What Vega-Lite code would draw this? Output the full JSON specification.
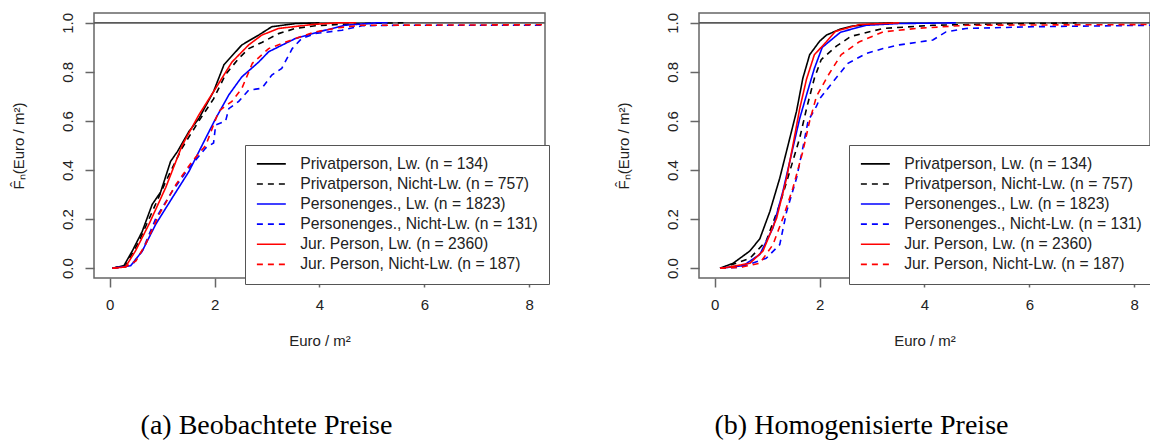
{
  "$schema": "https://vega.github.io/schema/vega-lite/v6.json",
  "background": "white",
  "padding": {"left": 10, "top": 11, "right": 0, "bottom": 0},
  "config": {
    "font": "Liberation Sans",
    "view": {"stroke": "#666666", "strokeWidth": 1.5},
    "axis": {"domain": false, "grid": false, "tickColor": "#666666", "tickWidth": 1.5, "tickSize": 9, "labelFont": "Liberation Sans", "labelFontSize": 15, "labelColor": "#222222", "titleFont": "Liberation Sans", "titleFontSize": 15, "titleFontWeight": "normal", "titleColor": "#222222"},
    "legend": {"fillColor": "white", "strokeColor": "#555555", "padding": 11, "labelFont": "Liberation Sans", "labelFontSize": 15.7, "labelColor": "#222222", "labelLimit": 0, "rowPadding": 3.1},
    "concat": {"spacing": 64}
  },
  "datasets": {
    "a": [
      {"s": "Privatperson, Lw. (n = 134)", "x": 0.05, "y": 0}, {"s": "Privatperson, Lw. (n = 134)", "x": 0.27, "y": 0.01}, {"s": "Privatperson, Lw. (n = 134)", "x": 0.43, "y": 0.07}, {"s": "Privatperson, Lw. (n = 134)", "x": 0.62, "y": 0.15}, {"s": "Privatperson, Lw. (n = 134)", "x": 0.81, "y": 0.26}, {"s": "Privatperson, Lw. (n = 134)", "x": 0.97, "y": 0.31}, {"s": "Privatperson, Lw. (n = 134)", "x": 1.16, "y": 0.435}, {"s": "Privatperson, Lw. (n = 134)", "x": 1.29, "y": 0.475}, {"s": "Privatperson, Lw. (n = 134)", "x": 1.51, "y": 0.557}, {"s": "Privatperson, Lw. (n = 134)", "x": 1.7, "y": 0.61}, {"s": "Privatperson, Lw. (n = 134)", "x": 1.98, "y": 0.72}, {"s": "Privatperson, Lw. (n = 134)", "x": 2.18, "y": 0.83}, {"s": "Privatperson, Lw. (n = 134)", "x": 2.52, "y": 0.91}, {"s": "Privatperson, Lw. (n = 134)", "x": 2.84, "y": 0.95}, {"s": "Privatperson, Lw. (n = 134)", "x": 3.09, "y": 0.984}, {"s": "Privatperson, Lw. (n = 134)", "x": 3.54, "y": 0.997}, {"s": "Privatperson, Lw. (n = 134)", "x": 4.0, "y": 1.0},
      {"s": "Privatperson, Nicht-Lw. (n = 757)", "x": 0.05, "y": 0}, {"s": "Privatperson, Nicht-Lw. (n = 757)", "x": 0.3, "y": 0.01}, {"s": "Privatperson, Nicht-Lw. (n = 757)", "x": 0.56, "y": 0.11}, {"s": "Privatperson, Nicht-Lw. (n = 757)", "x": 0.81, "y": 0.23}, {"s": "Privatperson, Nicht-Lw. (n = 757)", "x": 1.07, "y": 0.354}, {"s": "Privatperson, Nicht-Lw. (n = 757)", "x": 1.38, "y": 0.49}, {"s": "Privatperson, Nicht-Lw. (n = 757)", "x": 1.7, "y": 0.6}, {"s": "Privatperson, Nicht-Lw. (n = 757)", "x": 1.98, "y": 0.69}, {"s": "Privatperson, Nicht-Lw. (n = 757)", "x": 2.21, "y": 0.79}, {"s": "Privatperson, Nicht-Lw. (n = 757)", "x": 2.46, "y": 0.855}, {"s": "Privatperson, Nicht-Lw. (n = 757)", "x": 2.65, "y": 0.895}, {"s": "Privatperson, Nicht-Lw. (n = 757)", "x": 2.9, "y": 0.92}, {"s": "Privatperson, Nicht-Lw. (n = 757)", "x": 3.22, "y": 0.956}, {"s": "Privatperson, Nicht-Lw. (n = 757)", "x": 3.54, "y": 0.977}, {"s": "Privatperson, Nicht-Lw. (n = 757)", "x": 3.92, "y": 0.988}, {"s": "Privatperson, Nicht-Lw. (n = 757)", "x": 4.35, "y": 0.993}, {"s": "Privatperson, Nicht-Lw. (n = 757)", "x": 5.0, "y": 0.998}, {"s": "Privatperson, Nicht-Lw. (n = 757)", "x": 5.6, "y": 1.0},
      {"s": "Personenges., Lw. (n = 1823)", "x": 0.05, "y": 0}, {"s": "Personenges., Lw. (n = 1823)", "x": 0.4, "y": 0.01}, {"s": "Personenges., Lw. (n = 1823)", "x": 0.62, "y": 0.07}, {"s": "Personenges., Lw. (n = 1823)", "x": 0.88, "y": 0.18}, {"s": "Personenges., Lw. (n = 1823)", "x": 1.19, "y": 0.286}, {"s": "Personenges., Lw. (n = 1823)", "x": 1.51, "y": 0.394}, {"s": "Personenges., Lw. (n = 1823)", "x": 1.83, "y": 0.53}, {"s": "Personenges., Lw. (n = 1823)", "x": 2.02, "y": 0.61}, {"s": "Personenges., Lw. (n = 1823)", "x": 2.27, "y": 0.706}, {"s": "Personenges., Lw. (n = 1823)", "x": 2.52, "y": 0.78}, {"s": "Personenges., Lw. (n = 1823)", "x": 2.84, "y": 0.84}, {"s": "Personenges., Lw. (n = 1823)", "x": 3.03, "y": 0.882}, {"s": "Personenges., Lw. (n = 1823)", "x": 3.54, "y": 0.936}, {"s": "Personenges., Lw. (n = 1823)", "x": 3.98, "y": 0.963}, {"s": "Personenges., Lw. (n = 1823)", "x": 4.49, "y": 0.99}, {"s": "Personenges., Lw. (n = 1823)", "x": 5.1, "y": 1.0}, {"s": "Personenges., Lw. (n = 1823)", "x": 5.3, "y": 1.0},
      {"s": "Personenges., Nicht-Lw. (n = 131)", "x": 0.05, "y": 0}, {"s": "Personenges., Nicht-Lw. (n = 131)", "x": 0.3, "y": 0.005}, {"s": "Personenges., Nicht-Lw. (n = 131)", "x": 0.45, "y": 0.02}, {"s": "Personenges., Nicht-Lw. (n = 131)", "x": 0.62, "y": 0.07}, {"s": "Personenges., Nicht-Lw. (n = 131)", "x": 0.88, "y": 0.204}, {"s": "Personenges., Nicht-Lw. (n = 131)", "x": 1.19, "y": 0.313}, {"s": "Personenges., Nicht-Lw. (n = 131)", "x": 1.51, "y": 0.408}, {"s": "Personenges., Nicht-Lw. (n = 131)", "x": 1.83, "y": 0.49}, {"s": "Personenges., Nicht-Lw. (n = 131)", "x": 1.98, "y": 0.51}, {"s": "Personenges., Nicht-Lw. (n = 131)", "x": 2.02, "y": 0.584}, {"s": "Personenges., Nicht-Lw. (n = 131)", "x": 2.21, "y": 0.6}, {"s": "Personenges., Nicht-Lw. (n = 131)", "x": 2.27, "y": 0.65}, {"s": "Personenges., Nicht-Lw. (n = 131)", "x": 2.46, "y": 0.68}, {"s": "Personenges., Nicht-Lw. (n = 131)", "x": 2.65, "y": 0.726}, {"s": "Personenges., Nicht-Lw. (n = 131)", "x": 2.9, "y": 0.733}, {"s": "Personenges., Nicht-Lw. (n = 131)", "x": 3.09, "y": 0.787}, {"s": "Personenges., Nicht-Lw. (n = 131)", "x": 3.28, "y": 0.814}, {"s": "Personenges., Nicht-Lw. (n = 131)", "x": 3.48, "y": 0.895}, {"s": "Personenges., Nicht-Lw. (n = 131)", "x": 3.66, "y": 0.936}, {"s": "Personenges., Nicht-Lw. (n = 131)", "x": 3.92, "y": 0.956}, {"s": "Personenges., Nicht-Lw. (n = 131)", "x": 4.43, "y": 0.97}, {"s": "Personenges., Nicht-Lw. (n = 131)", "x": 4.81, "y": 0.988}, {"s": "Personenges., Nicht-Lw. (n = 131)", "x": 5.5, "y": 0.99}, {"s": "Personenges., Nicht-Lw. (n = 131)", "x": 8.3, "y": 0.99},
      {"s": "Jur. Person, Lw. (n = 2360)", "x": 0.05, "y": 0}, {"s": "Jur. Person, Lw. (n = 2360)", "x": 0.3, "y": 0.005}, {"s": "Jur. Person, Lw. (n = 2360)", "x": 0.49, "y": 0.07}, {"s": "Jur. Person, Lw. (n = 2360)", "x": 0.75, "y": 0.18}, {"s": "Jur. Person, Lw. (n = 2360)", "x": 1.07, "y": 0.33}, {"s": "Jur. Person, Lw. (n = 2360)", "x": 1.38, "y": 0.5}, {"s": "Jur. Person, Lw. (n = 2360)", "x": 1.7, "y": 0.625}, {"s": "Jur. Person, Lw. (n = 2360)", "x": 2.02, "y": 0.733}, {"s": "Jur. Person, Lw. (n = 2360)", "x": 2.33, "y": 0.84}, {"s": "Jur. Person, Lw. (n = 2360)", "x": 2.65, "y": 0.91}, {"s": "Jur. Person, Lw. (n = 2360)", "x": 2.9, "y": 0.95}, {"s": "Jur. Person, Lw. (n = 2360)", "x": 3.22, "y": 0.977}, {"s": "Jur. Person, Lw. (n = 2360)", "x": 3.86, "y": 0.993}, {"s": "Jur. Person, Lw. (n = 2360)", "x": 4.35, "y": 1.0}, {"s": "Jur. Person, Lw. (n = 2360)", "x": 4.7, "y": 1.0},
      {"s": "Jur. Person, Nicht-Lw. (n = 187)", "x": 0.05, "y": 0}, {"s": "Jur. Person, Nicht-Lw. (n = 187)", "x": 0.3, "y": 0.005}, {"s": "Jur. Person, Nicht-Lw. (n = 187)", "x": 0.5, "y": 0.03}, {"s": "Jur. Person, Nicht-Lw. (n = 187)", "x": 0.68, "y": 0.096}, {"s": "Jur. Person, Nicht-Lw. (n = 187)", "x": 0.94, "y": 0.218}, {"s": "Jur. Person, Nicht-Lw. (n = 187)", "x": 1.26, "y": 0.34}, {"s": "Jur. Person, Nicht-Lw. (n = 187)", "x": 1.57, "y": 0.435}, {"s": "Jur. Person, Nicht-Lw. (n = 187)", "x": 1.83, "y": 0.5}, {"s": "Jur. Person, Nicht-Lw. (n = 187)", "x": 2.08, "y": 0.64}, {"s": "Jur. Person, Nicht-Lw. (n = 187)", "x": 2.33, "y": 0.68}, {"s": "Jur. Person, Nicht-Lw. (n = 187)", "x": 2.52, "y": 0.733}, {"s": "Jur. Person, Nicht-Lw. (n = 187)", "x": 2.72, "y": 0.835}, {"s": "Jur. Person, Nicht-Lw. (n = 187)", "x": 3.03, "y": 0.895}, {"s": "Jur. Person, Nicht-Lw. (n = 187)", "x": 3.54, "y": 0.936}, {"s": "Jur. Person, Nicht-Lw. (n = 187)", "x": 3.92, "y": 0.963}, {"s": "Jur. Person, Nicht-Lw. (n = 187)", "x": 4.36, "y": 0.98}, {"s": "Jur. Person, Nicht-Lw. (n = 187)", "x": 4.8, "y": 0.99}, {"s": "Jur. Person, Nicht-Lw. (n = 187)", "x": 8.3, "y": 0.992}
    ],
    "b": [
      {"s": "Privatperson, Lw. (n = 134)", "x": 0.1, "y": 0}, {"s": "Privatperson, Lw. (n = 134)", "x": 0.35, "y": 0.02}, {"s": "Privatperson, Lw. (n = 134)", "x": 0.67, "y": 0.07}, {"s": "Privatperson, Lw. (n = 134)", "x": 0.86, "y": 0.12}, {"s": "Privatperson, Lw. (n = 134)", "x": 1.05, "y": 0.23}, {"s": "Privatperson, Lw. (n = 134)", "x": 1.24, "y": 0.367}, {"s": "Privatperson, Lw. (n = 134)", "x": 1.4, "y": 0.503}, {"s": "Privatperson, Lw. (n = 134)", "x": 1.56, "y": 0.64}, {"s": "Privatperson, Lw. (n = 134)", "x": 1.68, "y": 0.774}, {"s": "Privatperson, Lw. (n = 134)", "x": 1.81, "y": 0.87}, {"s": "Privatperson, Lw. (n = 134)", "x": 2.0, "y": 0.925}, {"s": "Privatperson, Lw. (n = 134)", "x": 2.13, "y": 0.95}, {"s": "Privatperson, Lw. (n = 134)", "x": 2.4, "y": 0.975}, {"s": "Privatperson, Lw. (n = 134)", "x": 2.6, "y": 0.986}, {"s": "Privatperson, Lw. (n = 134)", "x": 3.0, "y": 0.995}, {"s": "Privatperson, Lw. (n = 134)", "x": 3.4, "y": 1.0},
      {"s": "Privatperson, Nicht-Lw. (n = 757)", "x": 0.1, "y": 0}, {"s": "Privatperson, Nicht-Lw. (n = 757)", "x": 0.2, "y": 0.005}, {"s": "Privatperson, Nicht-Lw. (n = 757)", "x": 0.67, "y": 0.04}, {"s": "Privatperson, Nicht-Lw. (n = 757)", "x": 0.98, "y": 0.11}, {"s": "Privatperson, Nicht-Lw. (n = 757)", "x": 1.24, "y": 0.26}, {"s": "Privatperson, Nicht-Lw. (n = 757)", "x": 1.43, "y": 0.394}, {"s": "Privatperson, Nicht-Lw. (n = 757)", "x": 1.62, "y": 0.53}, {"s": "Privatperson, Nicht-Lw. (n = 757)", "x": 1.75, "y": 0.65}, {"s": "Privatperson, Nicht-Lw. (n = 757)", "x": 1.9, "y": 0.774}, {"s": "Privatperson, Nicht-Lw. (n = 757)", "x": 2.03, "y": 0.85}, {"s": "Privatperson, Nicht-Lw. (n = 757)", "x": 2.32, "y": 0.905}, {"s": "Privatperson, Nicht-Lw. (n = 757)", "x": 2.6, "y": 0.945}, {"s": "Privatperson, Nicht-Lw. (n = 757)", "x": 3.21, "y": 0.977}, {"s": "Privatperson, Nicht-Lw. (n = 757)", "x": 4.16, "y": 0.99}, {"s": "Privatperson, Nicht-Lw. (n = 757)", "x": 5.43, "y": 0.995}, {"s": "Privatperson, Nicht-Lw. (n = 757)", "x": 6.9, "y": 1.0},
      {"s": "Personenges., Lw. (n = 1823)", "x": 0.1, "y": 0}, {"s": "Personenges., Lw. (n = 1823)", "x": 0.54, "y": 0.01}, {"s": "Personenges., Lw. (n = 1823)", "x": 0.86, "y": 0.056}, {"s": "Personenges., Lw. (n = 1823)", "x": 1.11, "y": 0.164}, {"s": "Personenges., Lw. (n = 1823)", "x": 1.3, "y": 0.313}, {"s": "Personenges., Lw. (n = 1823)", "x": 1.46, "y": 0.462}, {"s": "Personenges., Lw. (n = 1823)", "x": 1.62, "y": 0.61}, {"s": "Personenges., Lw. (n = 1823)", "x": 1.75, "y": 0.706}, {"s": "Personenges., Lw. (n = 1823)", "x": 1.9, "y": 0.814}, {"s": "Personenges., Lw. (n = 1823)", "x": 2.05, "y": 0.9}, {"s": "Personenges., Lw. (n = 1823)", "x": 2.4, "y": 0.962}, {"s": "Personenges., Lw. (n = 1823)", "x": 2.89, "y": 0.99}, {"s": "Personenges., Lw. (n = 1823)", "x": 3.5, "y": 0.997}, {"s": "Personenges., Lw. (n = 1823)", "x": 4.6, "y": 1.0},
      {"s": "Personenges., Nicht-Lw. (n = 131)", "x": 0.1, "y": 0}, {"s": "Personenges., Nicht-Lw. (n = 131)", "x": 0.48, "y": 0.003}, {"s": "Personenges., Nicht-Lw. (n = 131)", "x": 0.98, "y": 0.04}, {"s": "Personenges., Nicht-Lw. (n = 131)", "x": 1.24, "y": 0.096}, {"s": "Personenges., Nicht-Lw. (n = 131)", "x": 1.37, "y": 0.23}, {"s": "Personenges., Nicht-Lw. (n = 131)", "x": 1.56, "y": 0.367}, {"s": "Personenges., Nicht-Lw. (n = 131)", "x": 1.68, "y": 0.49}, {"s": "Personenges., Nicht-Lw. (n = 131)", "x": 1.78, "y": 0.6}, {"s": "Personenges., Nicht-Lw. (n = 131)", "x": 1.94, "y": 0.66}, {"s": "Personenges., Nicht-Lw. (n = 131)", "x": 2.0, "y": 0.69}, {"s": "Personenges., Nicht-Lw. (n = 131)", "x": 2.22, "y": 0.75}, {"s": "Personenges., Nicht-Lw. (n = 131)", "x": 2.54, "y": 0.835}, {"s": "Personenges., Nicht-Lw. (n = 131)", "x": 2.89, "y": 0.875}, {"s": "Personenges., Nicht-Lw. (n = 131)", "x": 3.21, "y": 0.895}, {"s": "Personenges., Nicht-Lw. (n = 131)", "x": 3.52, "y": 0.91}, {"s": "Personenges., Nicht-Lw. (n = 131)", "x": 4.16, "y": 0.93}, {"s": "Personenges., Nicht-Lw. (n = 131)", "x": 4.41, "y": 0.963}, {"s": "Personenges., Nicht-Lw. (n = 131)", "x": 4.79, "y": 0.977}, {"s": "Personenges., Nicht-Lw. (n = 131)", "x": 6.06, "y": 0.984}, {"s": "Personenges., Nicht-Lw. (n = 131)", "x": 8.3, "y": 0.99},
      {"s": "Jur. Person, Lw. (n = 2360)", "x": 0.1, "y": 0}, {"s": "Jur. Person, Lw. (n = 2360)", "x": 0.2, "y": 0.002}, {"s": "Jur. Person, Lw. (n = 2360)", "x": 0.67, "y": 0.02}, {"s": "Jur. Person, Lw. (n = 2360)", "x": 0.92, "y": 0.07}, {"s": "Jur. Person, Lw. (n = 2360)", "x": 1.18, "y": 0.204}, {"s": "Jur. Person, Lw. (n = 2360)", "x": 1.37, "y": 0.367}, {"s": "Jur. Person, Lw. (n = 2360)", "x": 1.49, "y": 0.5}, {"s": "Jur. Person, Lw. (n = 2360)", "x": 1.62, "y": 0.65}, {"s": "Jur. Person, Lw. (n = 2360)", "x": 1.75, "y": 0.77}, {"s": "Jur. Person, Lw. (n = 2360)", "x": 1.9, "y": 0.87}, {"s": "Jur. Person, Lw. (n = 2360)", "x": 2.13, "y": 0.923}, {"s": "Jur. Person, Lw. (n = 2360)", "x": 2.3, "y": 0.965}, {"s": "Jur. Person, Lw. (n = 2360)", "x": 2.76, "y": 0.993}, {"s": "Jur. Person, Lw. (n = 2360)", "x": 3.52, "y": 1.0},
      {"s": "Jur. Person, Nicht-Lw. (n = 187)", "x": 0.1, "y": 0}, {"s": "Jur. Person, Nicht-Lw. (n = 187)", "x": 0.48, "y": 0.003}, {"s": "Jur. Person, Nicht-Lw. (n = 187)", "x": 0.86, "y": 0.02}, {"s": "Jur. Person, Nicht-Lw. (n = 187)", "x": 1.11, "y": 0.096}, {"s": "Jur. Person, Nicht-Lw. (n = 187)", "x": 1.3, "y": 0.204}, {"s": "Jur. Person, Nicht-Lw. (n = 187)", "x": 1.49, "y": 0.326}, {"s": "Jur. Person, Nicht-Lw. (n = 187)", "x": 1.68, "y": 0.476}, {"s": "Jur. Person, Nicht-Lw. (n = 187)", "x": 1.81, "y": 0.6}, {"s": "Jur. Person, Nicht-Lw. (n = 187)", "x": 1.94, "y": 0.7}, {"s": "Jur. Person, Nicht-Lw. (n = 187)", "x": 2.16, "y": 0.785}, {"s": "Jur. Person, Nicht-Lw. (n = 187)", "x": 2.41, "y": 0.87}, {"s": "Jur. Person, Nicht-Lw. (n = 187)", "x": 2.76, "y": 0.923}, {"s": "Jur. Person, Nicht-Lw. (n = 187)", "x": 3.21, "y": 0.963}, {"s": "Jur. Person, Nicht-Lw. (n = 187)", "x": 3.84, "y": 0.977}, {"s": "Jur. Person, Nicht-Lw. (n = 187)", "x": 4.79, "y": 0.99}, {"s": "Jur. Person, Nicht-Lw. (n = 187)", "x": 8.3, "y": 0.993}
    ],
    "one": [{"y": 1}]
  },
  "hconcat": [
    {
      "width": 451, "height": 265,
      "title": {"text": "(a) Beobachtete Preise", "orient": "bottom", "frame": "group", "anchor": "middle", "dx": -53, "offset": 86, "baseline": "alphabetic", "font": "Liberation Serif", "fontSize": 28, "fontWeight": "normal", "color": "#000000"},
      "layer": [
        {"data": {"name": "one"}, "mark": {"type": "rule", "color": "#5a5a5a", "strokeWidth": 1.8}, "encoding": {"y": {"field": "y", "type": "quantitative", "scale": {"domain": [-0.04, 1.04], "nice": false, "zero": false}}}},
        {"data": {"name": "a"}, "mark": {"type": "line", "strokeWidth": 1.6, "clip": true},
          "encoding": {
            "x": {"field": "x", "type": "quantitative", "scale": {"domain": [-0.3, 8.3], "nice": false, "zero": false}, "axis": {"values": [0, 2, 4, 6, 8], "title": "Euro / m²", "labelPadding": 10, "titlePadding": 21}},
            "y": {"field": "y", "type": "quantitative", "scale": {"domain": [-0.04, 1.04], "nice": false, "zero": false}, "axis": {"values": [0, 0.2, 0.4, 0.6, 0.8, 1], "format": ".1f", "labelAngle": -90, "labelAlign": "center", "labelBaseline": "alphabetic", "labelPadding": 13, "title": "F̂ₙ(Euro / m²)", "titlePadding": 34}},
            "color": {"field": "s", "type": "nominal", "scale": {"domain": ["Privatperson, Lw. (n = 134)", "Privatperson, Nicht-Lw. (n = 757)", "Personenges., Lw. (n = 1823)", "Personenges., Nicht-Lw. (n = 131)", "Jur. Person, Lw. (n = 2360)", "Jur. Person, Nicht-Lw. (n = 187)"], "range": ["#000000", "#000000", "#0000ff", "#0000ff", "#ff0000", "#ff0000"]}, "legend": {"title": null, "orient": "none", "legendX": 151, "legendY": 132, "symbolType": "M-3,0H3", "symbolSize": 93, "symbolStrokeWidth": 1.6, "symbolOffset": 7.5, "labelOffset": 21}},
            "strokeDash": {"field": "s", "type": "nominal", "scale": {"domain": ["Privatperson, Lw. (n = 134)", "Privatperson, Nicht-Lw. (n = 757)", "Personenges., Lw. (n = 1823)", "Personenges., Nicht-Lw. (n = 131)", "Jur. Person, Lw. (n = 2360)", "Jur. Person, Nicht-Lw. (n = 187)"], "range": [[1, 0], [6, 5], [1, 0], [6, 5], [1, 0], [6, 5]]}, "legend": {"title": null, "orient": "none", "legendX": 151, "legendY": 132, "symbolType": "M-3,0H3", "symbolSize": 93, "symbolStrokeWidth": 1.6, "symbolOffset": 7.5, "labelOffset": 21}}
          }
        }
      ]
    },
    {
      "width": 451, "height": 265,
      "title": {"text": "(b) Homogenisierte Preise", "orient": "bottom", "frame": "group", "anchor": "middle", "dx": -63, "offset": 86, "baseline": "alphabetic", "font": "Liberation Serif", "fontSize": 28, "fontWeight": "normal", "color": "#000000"},
      "layer": [
        {"data": {"name": "one"}, "mark": {"type": "rule", "color": "#5a5a5a", "strokeWidth": 1.8}, "encoding": {"y": {"field": "y", "type": "quantitative", "scale": {"domain": [-0.04, 1.04], "nice": false, "zero": false}}}},
        {"data": {"name": "b"}, "mark": {"type": "line", "strokeWidth": 1.6, "clip": true},
          "encoding": {
            "x": {"field": "x", "type": "quantitative", "scale": {"domain": [-0.3, 8.3], "nice": false, "zero": false}, "axis": {"values": [0, 2, 4, 6, 8], "title": "Euro / m²", "labelPadding": 10, "titlePadding": 21}},
            "y": {"field": "y", "type": "quantitative", "scale": {"domain": [-0.04, 1.04], "nice": false, "zero": false}, "axis": {"values": [0, 0.2, 0.4, 0.6, 0.8, 1], "format": ".1f", "labelAngle": -90, "labelAlign": "center", "labelBaseline": "alphabetic", "labelPadding": 13, "title": "F̂ₙ(Euro / m²)", "titlePadding": 34}},
            "color": {"field": "s", "type": "nominal", "scale": {"domain": ["Privatperson, Lw. (n = 134)", "Privatperson, Nicht-Lw. (n = 757)", "Personenges., Lw. (n = 1823)", "Personenges., Nicht-Lw. (n = 131)", "Jur. Person, Lw. (n = 2360)", "Jur. Person, Nicht-Lw. (n = 187)"], "range": ["#000000", "#000000", "#0000ff", "#0000ff", "#ff0000", "#ff0000"]}, "legend": {"title": null, "orient": "none", "legendX": 150, "legendY": 132, "symbolType": "M-3,0H3", "symbolSize": 93, "symbolStrokeWidth": 1.6, "symbolOffset": 7.5, "labelOffset": 21}},
            "strokeDash": {"field": "s", "type": "nominal", "scale": {"domain": ["Privatperson, Lw. (n = 134)", "Privatperson, Nicht-Lw. (n = 757)", "Personenges., Lw. (n = 1823)", "Personenges., Nicht-Lw. (n = 131)", "Jur. Person, Lw. (n = 2360)", "Jur. Person, Nicht-Lw. (n = 187)"], "range": [[1, 0], [6, 5], [1, 0], [6, 5], [1, 0], [6, 5]]}, "legend": {"title": null, "orient": "none", "legendX": 150, "legendY": 132, "symbolType": "M-3,0H3", "symbolSize": 93, "symbolStrokeWidth": 1.6, "symbolOffset": 7.5, "labelOffset": 21}}
          }
        }
      ]
    }
  ],
  "resolve": {"scale": {"x": "independent", "y": "independent", "color": "independent", "strokeDash": "independent"}, "legend": {"color": "independent", "strokeDash": "independent"}}
}
